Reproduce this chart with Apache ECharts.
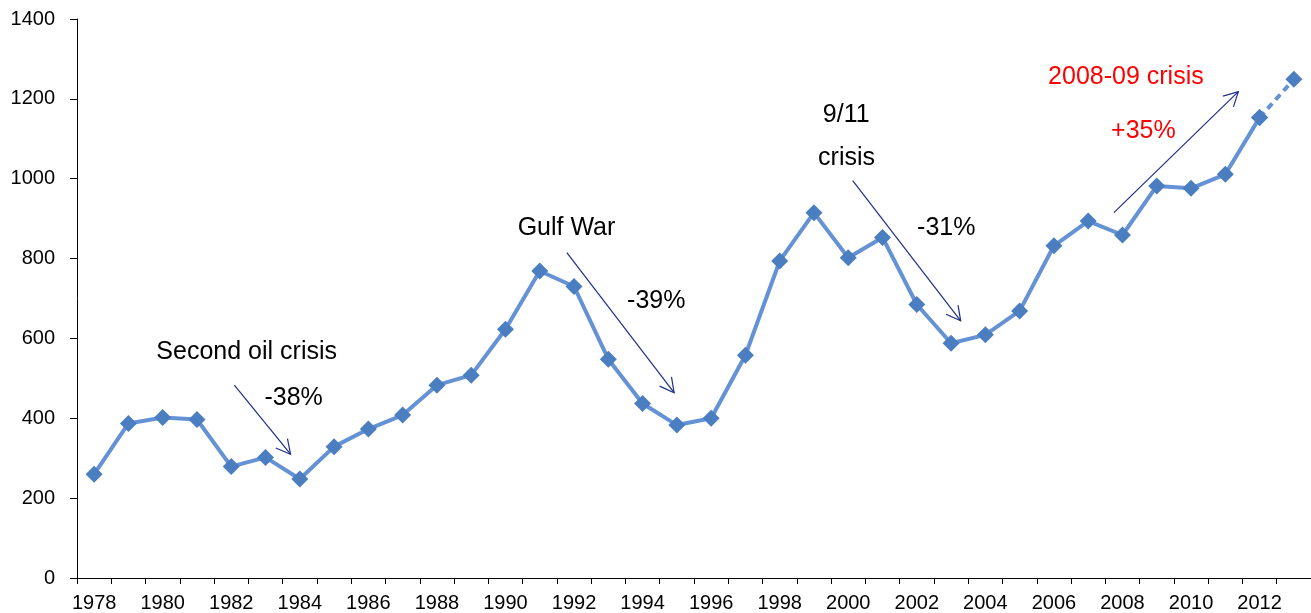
<!DOCTYPE html>
<html><head><meta charset="utf-8">
<script src="https://cdn.jsdelivr.net/npm/echarts@6/dist/echarts.min.js"></script>
<style>html,body{margin:0;padding:0;background:#fff}#c{width:1311px;height:613px}</style>
</head><body><div id="c"></div>
<script>
const years = ['1978','1979','1980','1981','1982','1983','1984','1985','1986','1987','1988','1989','1990','1991','1992','1993','1994','1995','1996','1997','1998','1999','2000','2001','2002','2003','2004','2005','2006','2007','2008','2009','2010','2011','2012','2013'];
const values = [260,387,402,397,279,302,248,329,373,408,483,508,623,769,730,548,437,383,400,558,794,915,802,853,685,588,609,669,832,894,859,982,976,1011,1153,1249];
const yMin = 0, yMax = 1400, yStep = 200;
const annotations = [
  {text:'Second oil crisis', x:1982.45, y:566, color:'#000000'},
  {text:'-38%', x:1983.82, y:451, color:'#000000'},
  {text:'Gulf War', x:1991.78, y:876, color:'#000000'},
  {text:'-39%', x:1994.40, y:694, color:'#000000'},
  {text:'9/11', x:1999.94, y:1159, color:'#000000'},
  {text:'crisis', x:1999.95, y:1052, color:'#000000'},
  {text:'-31%', x:2002.86, y:876, color:'#000000'},
  {text:'2008-09 crisis', x:2008.10, y:1255, color:'#ff0000'},
  {text:'+35%', x:2008.61, y:1119, color:'#ff0000'}
];
const arrows = [
  {from:[1982.09,483], to:[1983.73,310]},
  {from:[1991.79,815], to:[1994.92,464]},
  {from:[2000.13,995], to:[2003.28,644]},
  {from:[2007.75,915], to:[2011.38,1218]}
];

const FONT = '"Liberation Sans", Arial, sans-serif';
const solid = values.map((v,i)=> i < values.length-1 ? v : null);
const dashed = values.map((v,i)=> i >= values.length-2 ? v : null);
const chart = echarts.init(document.getElementById('c'), null, {renderer:'canvas'});
chart.setOption({
  animation:false,
  backgroundColor:'#ffffff',
  grid:{left:77, right:-14, top:19, bottom:35, containLabel:false},
  xAxis:[{
    type:'category', data:years, boundaryGap:true,
    axisLine:{lineStyle:{color:'#000', width:1}},
    axisTick:{show:true, interval:0, length:6, lineStyle:{color:'#000'}},
    axisLabel:{interval:1, color:'#000', fontSize:20, fontFamily:FONT, margin:15},
    splitLine:{show:false}
  },{
    type:'value', min:1977.5, max:2013.5, show:false
  }],
  yAxis:{
    type:'value', min:yMin, max:yMax, interval:yStep,
    axisLine:{show:true, lineStyle:{color:'#000', width:1}},
    axisTick:{show:true, length:7, lineStyle:{color:'#000'}},
    axisLabel:{color:'#000', fontSize:20, fontFamily:FONT, margin:22, formatter:v=>String(v)},
    splitLine:{show:false}
  },
  series:[{
    type:'line', data:dashed, xAxisIndex:0, symbol:'diamond', symbolSize:17,
    lineStyle:{color:'#6592d5', width:4, type:[7,5]},
    itemStyle:{color:'#4a7ec0'}, z:2
  },{
    type:'line', data:solid, xAxisIndex:0, symbol:'diamond', symbolSize:17,
    lineStyle:{color:'#6592d5', width:4},
    itemStyle:{color:'#4a7ec0'}, z:3
  }]
});

function px(p){ return chart.convertToPixel({xAxisIndex:1, yAxisIndex:0}, p); }
const graphics = [];
annotations.forEach(a=>{
  const p = px([a.x, a.y]);
  graphics.push({type:'text', x:p[0], y:p[1], z:10, style:{text:a.text, fill:a.color, font:'25px '+FONT, align:'center', verticalAlign:'middle'}});
});
arrows.forEach(a=>{
  const s = px(a.from), t = px(a.to);
  const dx = t[0]-s[0], dy = t[1]-s[1], L = Math.hypot(dx,dy);
  const ux = dx/L, uy = dy/L, hl = 16, ang = 28*Math.PI/180;
  const c = Math.cos(ang), sn = Math.sin(ang);
  const w1 = [t[0] - hl*(ux*c - uy*sn), t[1] - hl*(uy*c + ux*sn)];
  const w2 = [t[0] - hl*(ux*c + uy*sn), t[1] - hl*(uy*c - ux*sn)];
  graphics.push({type:'line', z:10, shape:{x1:s[0], y1:s[1], x2:t[0], y2:t[1]}, style:{stroke:'#1b2f8a', lineWidth:1.2}});
  graphics.push({type:'polyline', z:10, shape:{points:[w1, t, w2]}, style:{stroke:'#1b2f8a', lineWidth:1.2, fill:null}});
});
chart.setOption({graphic:graphics});
</script>
</body></html>
